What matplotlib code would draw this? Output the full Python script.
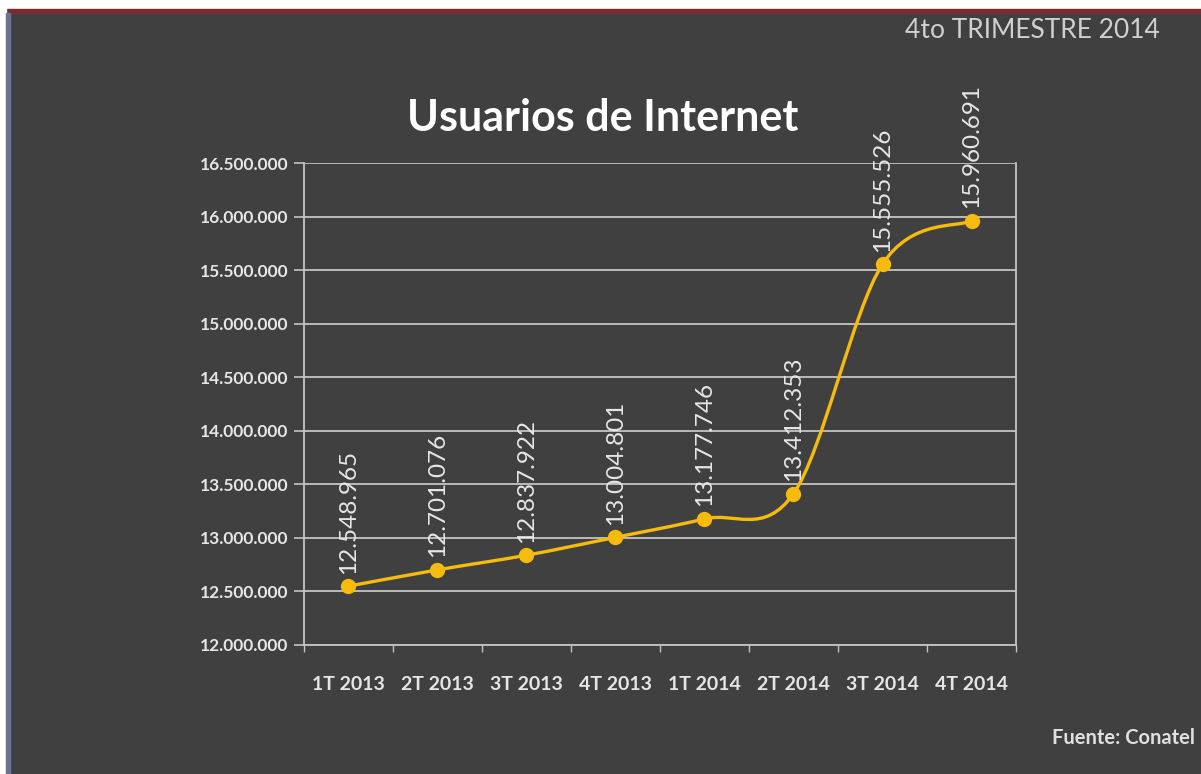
import matplotlib.pyplot as plt
import numpy as np
from matplotlib.path import Path
from matplotlib.patches import PathPatch, Rectangle

trimestres = ['1T 2013', '2T 2013', '3T 2013', '4T 2013',
              '1T 2014', '2T 2014', '3T 2014', '4T 2014']
usuarios = [12548965, 12701076, 12837922, 13004801,
            13177746, 13412353, 15555526, 15960691]
y_ticks = [12000000, 12500000, 13000000, 13500000, 14000000,
           14500000, 15000000, 15500000, 16000000, 16500000]

BG = '#404040'
YELLOW = '#f6bb0c'
GRID = '#c4c4c4'
TXT = '#e6e6e6'

plt.rcParams['font.family'] = ['Lato', 'DejaVu Sans']


def fmt(v):
    return f'{v:,}'.replace(',', '.')


def smooth_path(xs, ys):
    # excel-style smoothed line: cubic bezier, catmull-rom tangents
    n = len(xs)
    verts = [(xs[0], ys[0])]
    codes = [Path.MOVETO]
    for i in range(n - 1):
        x0, y0 = (xs[i - 1], ys[i - 1]) if i > 0 else (xs[i], ys[i])
        x3, y3 = (xs[i + 2], ys[i + 2]) if i + 2 < n else (xs[i + 1], ys[i + 1])
        c1 = (xs[i] + (xs[i + 1] - x0) / 6, ys[i] + (ys[i + 1] - y0) / 6)
        c2 = (xs[i + 1] - (x3 - xs[i]) / 6, ys[i + 1] - (y3 - ys[i]) / 6)
        verts += [c1, c2, (xs[i + 1], ys[i + 1])]
        codes += [Path.CURVE4] * 3
    return Path(verts, codes)


fig = plt.figure(figsize=(12.01, 7.74), dpi=100, facecolor=BG)

# frame strips of the screenshot
fig.patches.append(Rectangle((0, 0.989), 1, 0.011, transform=fig.transFigure,
                             color='white', zorder=0))
fig.patches.append(Rectangle((0, 0.983), 1, 0.006, transform=fig.transFigure,
                             color='#7a2a30', zorder=0))
fig.patches.append(Rectangle((0, 0), 0.005, 1, transform=fig.transFigure,
                             color='white', zorder=0))
fig.patches.append(Rectangle((0.005, 0), 0.003, 0.983, transform=fig.transFigure,
                             color='#6a7390', zorder=0))

ax = fig.add_axes([0.253, 0.1667, 0.593, 0.6227])
ax.set_facecolor(BG)

x = np.arange(len(trimestres))
ax.add_patch(PathPatch(smooth_path(x, usuarios), fill=False,
                       edgecolor=YELLOW, lw=2.4, zorder=3, capstyle='round'))
ax.plot(x, usuarios, 'o', color=YELLOW, ms=10, zorder=4)

for xi, v in zip(x, usuarios):
    ax.annotate(fmt(v), (xi, v), xytext=(0, 9), textcoords='offset points',
                rotation=90, ha='center', va='bottom', color=TXT,
                fontsize=17.5, zorder=5)

ax.set_xlim(-0.5, len(trimestres) - 0.5)
ax.set_ylim(y_ticks[0], y_ticks[-1])
ax.set_yticks(y_ticks)
ax.set_yticklabels([fmt(v) for v in y_ticks])
ax.set_xticks(x)
ax.set_xticklabels(trimestres)
ax.set_xticks(np.arange(-0.5, len(trimestres)), minor=True)

ax.grid(axis='y', color=GRID, lw=1.3)
ax.set_axisbelow(True)
ax.spines['top'].set_visible(False)
for s in ['left', 'right', 'bottom']:
    ax.spines[s].set_color(GRID)
    ax.spines[s].set_linewidth(1.3)

ax.tick_params(axis='x', which='major', length=0, pad=22, labelsize=14,
               labelcolor=TXT)
ax.tick_params(axis='x', which='minor', length=5, color=GRID, width=1)
ax.tick_params(axis='y', length=7, color=GRID, width=1.2, pad=4,
               labelsize=12.5, labelcolor=TXT)
for lab in ax.get_yticklabels() + ax.get_xticklabels():
    lab.set_fontweight('bold')

fig.text(0.502, 0.848, 'Usuarios de Internet', ha='center', va='center',
         color='white', fontsize=31, fontweight='bold')
fig.text(0.860, 0.961, '4to TRIMESTRE 2014', ha='center', va='center',
         color='#d0d0d0', fontsize=19)
fig.text(0.995, 0.046, 'Fuente: Conatel', ha='right', va='center',
         color='#e0e0e0', fontsize=14.5, fontweight='bold')

fig.savefig('out.png', dpi=100, facecolor=BG)
